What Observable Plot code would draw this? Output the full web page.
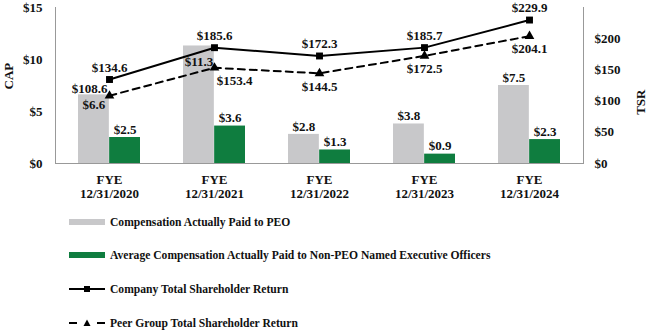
<!DOCTYPE html>
<html><head><meta charset="utf-8">
<script src="https://cdn.jsdelivr.net/npm/d3@7"></script>
<script src="https://cdn.jsdelivr.net/npm/@observablehq/plot@0.6"></script>
<style>
body{margin:0;background:#fff;font-family:"Liberation Serif","DejaVu Serif",serif;}
#chart{width:648px;height:330px;position:relative;}
#chart svg text{font-family:"Liberation Serif","DejaVu Serif",serif !important;}
.legend{position:absolute;left:69px;font-weight:bold;font-size:11.6px;color:#111;font-family:"Liberation Serif","DejaVu Serif",serif;}
.legend div{position:absolute;left:0;height:16px;display:flex;align-items:center;white-space:nowrap;}
.legend svg{margin-right:5px;}
</style></head>
<body><div id="chart"></div>
<script>
const years = ["2020","2021","2022","2023","2024"];
const xLabels = ["FYE\n12/31/2020","FYE\n12/31/2021","FYE\n12/31/2022","FYE\n12/31/2023","FYE\n12/31/2024"];
const capPEO = [6.6, 11.3, 2.8, 3.8, 7.5];
const capNonPEO = [2.5, 3.6, 1.3, 0.9, 2.3];
const tsrCompany = [134.6, 185.6, 172.3, 185.7, 229.9];
const tsrPeer = [108.6, 153.4, 144.5, 172.5, 204.1];
const leftTicks = [0, 5, 10, 15];
const rightTicks = [0, 50, 100, 150, 200];
const legendLabels = ["Compensation Actually Paid to PEO","Average Compensation Actually Paid to Non-PEO Named Executive Officers","Company Total Shareholder Return","Peer Group Total Shareholder Return"];

const GRAY = "#c8c8ca", GREEN = "#0f7d3f";
const k = 15 / 250; // TSR -> CAP axis
const fmt = v => "$" + v.toFixed(1);
const font = "'Liberation Serif', 'DejaVu Serif', serif";

const rows = years.map((y, i) => ({year: y, peo: capPEO[i], non: capNonPEO[i], comp: tsrCompany[i] * k, peer: tsrPeer[i] * k, compV: tsrCompany[i], peerV: tsrPeer[i], i}));
const bw = 528 / 5 * 0.59;

const peerDx = [-20, 20, 0, 0, 0];
const peerDy = [-7, 13, 13, 13, 13];
const peoDy = [10, 16, -8, -8, -8];

const plot = Plot.plot({
  width: 648, height: 205,
  marginLeft: 55, marginRight: 65, marginTop: 7, marginBottom: 42,
  style: {fontFamily: font, fontWeight: "bold", fontSize: "13px", color: "#111", background: "#fff"},
  x: {domain: years, paddingInner: 0.41, paddingOuter: 0.205, label: null},
  y: {domain: [0, 15], label: null},
  marks: [
    Plot.barY(rows, {x: "year", y: "peo", fill: GRAY, insetRight: bw / 2}),
    Plot.barY(rows, {x: "year", y: "non", fill: GREEN, insetLeft: bw / 2}),
    Plot.frame({anchor: "left", stroke: "#999"}),
    Plot.frame({anchor: "right", stroke: "#999"}),
    Plot.frame({anchor: "bottom", stroke: "#999"}),
    Plot.axisY({ticks: leftTicks, tickSize: 0, tickPadding: 13, tickFormat: d => "$" + d, fontSize: 13}),
    Plot.axisY({anchor: "right", ticks: rightTicks.map(t => t * k), tickSize: 0, tickPadding: 11, tickFormat: d => "$" + Math.round(d / k), fontSize: 13}),
    Plot.axisX({tickSize: 0, tickPadding: 10, tickFormat: (d, i) => xLabels[years.indexOf(d)], fontSize: 13, lineHeight: 1.1}),
    Plot.text(["CAP"], {frameAnchor: "left", dx: -47, dy: 4, rotate: -90, text: d => d, fontSize: 13}),
    Plot.text(["TSR"], {frameAnchor: "right", dx: 57, dy: 4, rotate: -90, text: d => d, fontSize: 13}),
    Plot.line(rows, {x: "year", y: "peer", stroke: "#000", strokeWidth: 2, strokeDasharray: "7,5"}),
    Plot.line(rows, {x: "year", y: "comp", stroke: "#000", strokeWidth: 2}),
    Plot.dot(rows, {x: "year", y: "peer", symbol: "triangle", fill: "#000", r: 3.6}),
    Plot.dot(rows, {x: "year", y: "comp", symbol: "square", fill: "#000", r: 3.9}),
    Plot.text(rows, {x: "year", y: "comp", text: d => fmt(d.compV), dy: -12, fill: "#111"}),
    ...rows.map(r => Plot.text([r], {x: "year", y: "peer", text: d => fmt(d.peerV), dx: peerDx[r.i], dy: peerDy[r.i], fill: "#111"})),
    ...rows.map(r => Plot.text([r], {x: "year", y: "peo", text: d => fmt(d.peo), dx: -bw / 4, dy: peoDy[r.i], fill: "#111"})),
    Plot.text(rows, {x: "year", y: "non", text: d => fmt(d.non), dx: bw / 4, dy: -8, fill: "#111"})
  ]
});
const chart = document.getElementById("chart");
chart.appendChild(plot);

const legend = document.createElement("div");
legend.className = "legend";
legend.style.top = "0px";
const sw = [
  `<svg width="36" height="8"><rect x="0" y="1" width="36" height="6" fill="${GRAY}"/></svg>`,
  `<svg width="36" height="8"><rect x="0" y="1" width="36" height="6" fill="${GREEN}"/></svg>`,
  `<svg width="36" height="8"><line x1="0" y1="4" x2="36" y2="4" stroke="#000" stroke-width="2"/><rect x="15" y="1" width="6" height="6" fill="#000"/></svg>`,
  `<svg width="36" height="8"><line x1="0" y1="4" x2="8" y2="4" stroke="#000" stroke-width="2"/><line x1="28" y1="4" x2="36" y2="4" stroke="#000" stroke-width="2"/><path d="M18,0.5 L21.5,7 L14.5,7 Z" fill="#000"/></svg>`
];
const tops = [214, 247, 281, 315];
legendLabels.forEach((t, i) => {
  const d = document.createElement("div");
  d.style.top = tops[i] + "px";
  d.innerHTML = sw[i] + `<span>${t}</span>`;
  legend.appendChild(d);
});
chart.appendChild(legend);
</script></body></html>
